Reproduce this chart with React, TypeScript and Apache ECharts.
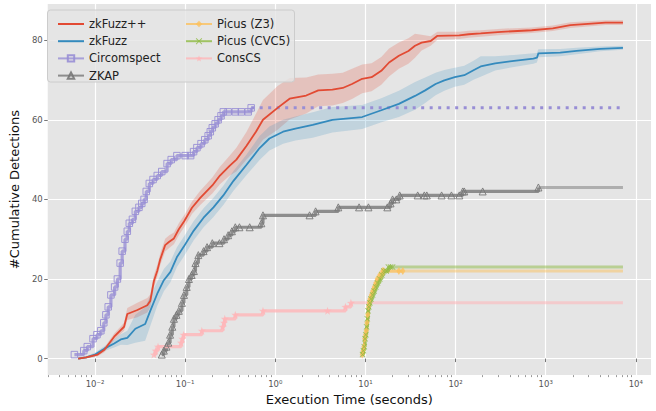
import React, { useEffect, useRef } from 'react';
import * as echarts from 'echarts';

// ---------- data ----------
const END_TIME = 7200;
const xTickValues = [0.01, 0.1, 1, 10, 100, 1000, 10000];
const yTickValues = [0, 20, 40, 60, 80];

// zkFuzz++ (mean curve with confidence band)
const zkFuzzPPTimes = [0.0065, 0.008, 0.0107, 0.0127, 0.0163, 0.021, 0.0228, 0.0295, 0.038, 0.041, 0.045, 0.049, 0.053, 0.06, 0.066, 0.075, 0.085, 0.0975, 0.119, 0.147, 0.2, 0.243, 0.313, 0.37, 0.48, 0.61, 0.73, 1.06, 1.44, 2.2, 3.0, 4.3, 5.6, 7.1, 9.2, 11.7, 15, 18.3, 23.5, 30, 35.5, 42, 53, 63, 110, 140, 190, 321, 700, 1200, 1880, 4600, 7200];
const zkFuzzPPMean = [0, 0.3, 1, 2.2, 5.5, 8, 11.2, 12.2, 13.4, 14.5, 19.5, 22, 25, 28.5, 29.3, 30.2, 32.5, 34.5, 37.9, 40.4, 43.5, 46, 48.5, 50, 53.5, 57, 60, 63, 65.3, 66.1, 67.4, 67.6, 68, 69, 70.3, 70.7, 72.3, 74.4, 76.1, 77.3, 78.6, 79.4, 79.8, 81.1, 81.2, 81.5, 81.7, 82.1, 82.5, 83, 83.8, 84.4, 84.4];
const zkFuzzPPHalfWidth = [0.2, 0.3, 0.4, 0.6, 0.8, 1, 1.5, 1.8, 1.8, 1.6, 1.5, 1.5, 1.5, 1.6, 1.6, 1.5, 1.5, 1.5, 1.6, 1.8, 2, 2.2, 2.5, 3, 3.5, 4.5, 5, 5.5, 5.2, 4.5, 4, 4, 3.8, 3.8, 3.6, 3.5, 3.5, 3.5, 3.3, 3.2, 3, 2, 1.2, 1, 0.9, 0.9, 0.8, 0.8, 0.7, 0.7, 0.7, 0.6, 0.6];

// zkFuzz (mean curve with confidence band)
const zkFuzzTimes = [0.0065, 0.008, 0.01, 0.0127, 0.0163, 0.0193, 0.0228, 0.028, 0.036, 0.041, 0.049, 0.058, 0.0686, 0.081, 0.097, 0.124, 0.16, 0.206, 0.265, 0.342, 0.48, 0.67, 0.86, 1.22, 1.67, 2.6, 4.3, 9.2, 15, 23.5, 35.5, 46, 60, 75, 98, 125, 160, 190, 275, 445, 730, 800, 830, 1450, 2200, 4030, 7200];
const zkFuzzMean = [0, 0.3, 1, 2.5, 3.8, 4.8, 5.2, 7.5, 8.7, 12, 16.3, 19.7, 21.8, 25.5, 28.2, 32.1, 35.4, 38, 41, 44.6, 48.7, 52.9, 55.3, 57, 57.8, 58.7, 60, 60.7, 62.4, 64, 66, 67.4, 69, 69.9, 70.7, 71.2, 72.5, 73.4, 74.2, 74.8, 75.4, 75.6, 76.7, 76.9, 77.3, 77.8, 78.1];
const zkFuzzHalfWidth = [0.2, 0.3, 0.5, 0.6, 1, 1.3, 1.8, 3.5, 4.2, 3.8, 3, 2.8, 2.6, 2.5, 2.5, 2.4, 2.4, 2.4, 2.4, 2.5, 2.6, 3, 3, 3, 3, 3.2, 3.2, 3, 3, 3.3, 3.5, 3.2, 2.8, 2.6, 2.4, 2.4, 2.4, 2.6, 1.8, 1.5, 1.3, 1.2, 1, 0.9, 0.8, 0.6, 0.5];

// Circomspect (step curve)
const circomspectTimes = [0.0059, 0.0075, 0.0082, 0.0095, 0.0105, 0.0116, 0.0125, 0.0132, 0.014, 0.015, 0.0165, 0.0177, 0.019, 0.02, 0.0215, 0.0228, 0.024, 0.026, 0.028, 0.0307, 0.033, 0.035, 0.037, 0.04, 0.044, 0.049, 0.055, 0.063, 0.07, 0.081, 0.1, 0.115, 0.124, 0.135, 0.15, 0.165, 0.18, 0.19, 0.2, 0.215, 0.232, 0.25, 0.265, 0.3, 0.36, 0.42, 0.5, 0.54];
const circomspectCounts = [1, 2, 3, 5, 6, 7, 9, 11, 13, 16, 18, 20, 24, 27, 30, 32, 34, 35, 37, 38, 39, 40, 42, 44, 45, 46, 47, 49, 50, 51, 51, 51, 52, 53, 54, 55, 56, 57, 58, 59, 60, 61, 62, 62, 62, 62, 62, 63];

// ZKAP (step curve)
const zkapTimes = [0.055, 0.058, 0.062, 0.065, 0.068, 0.072, 0.075, 0.08, 0.085, 0.092, 0.097, 0.104, 0.11, 0.118, 0.125, 0.13, 0.14, 0.16, 0.175, 0.2, 0.24, 0.27, 0.3, 0.33, 0.36, 0.4, 0.52, 0.7, 0.73, 2.4, 2.8, 5.0, 8.5, 10.8, 17.5, 19, 20, 22, 24, 38, 45, 48, 70, 90, 110, 120, 125, 200, 830];
const zkapCounts = [1, 2, 3, 4, 6, 8, 10, 11, 12, 14, 16, 18, 20, 21, 22, 24, 26, 27, 28, 29, 29, 30, 31, 32, 33, 33, 33, 34, 36, 36, 37, 38, 38, 38, 38, 39, 40, 40, 41, 41, 41, 41, 41, 41, 41, 42, 42, 42, 43];

// Picus (Z3) (step curve)
const picusZ3Times = [9.2, 9.4, 9.6, 9.8, 10, 10.2, 10.4, 10.6, 10.8, 11, 11.2, 11.6, 12, 12.5, 13, 13.5, 14.4, 15, 15.5, 16, 23.5, 26];
const picusZ3Counts = [1, 2, 3, 5, 6, 7, 9, 11, 13, 14, 15, 16, 17, 18, 19, 20, 21, 21, 22, 22, 22, 22];

// Picus (CVC5) (step curve)
const picusCVC5Times = [9.3, 9.5, 9.7, 9.9, 10.1, 10.3, 10.5, 10.7, 10.9, 11.2, 11.5, 12, 12.5, 13, 13.6, 14.4, 15.2, 16, 17, 18, 19, 20];
const picusCVC5Counts = [1, 2, 3, 5, 6, 8, 10, 12, 13, 14, 15, 16, 17, 18, 19, 20, 21, 22, 22, 23, 23, 23];

// ConsCS (step curve)
const consCSTimes = [0.045, 0.047, 0.05, 0.09, 0.093, 0.096, 0.153, 0.26, 0.27, 0.275, 0.36, 0.73, 3.8, 6.0, 6.9];
const consCSCounts = [1, 2, 3, 4, 5, 6, 7, 8, 9, 10, 11, 12, 12, 13, 14];

// ---------- styling ----------
const C_RED = '#E24A33';
const C_BLUE = '#348ABD';
const C_PURPLE = '#988ED5';
const C_GREY = '#777777';
const C_YELLOW = '#FBC15E';
const C_GREEN = '#8EBA42';
const C_PINK = '#FFB5B8';
const FONT = 'DejaVu Sans';

const X_MIN = 0.002985;
const X_MAX = 14740;
const Y_MIN = -4.15;
const Y_MAX = 89.1;

const SYM_X = 'path://M1,0 L5,4 L9,0 L10,1 L6,5 L10,9 L9,10 L5,6 L1,10 L0,9 L4,5 L0,1 Z';
const SYM_STAR = 'path://M5,0 L6.2,3.5 L10,3.6 L7,5.9 L8.1,9.5 L5,7.4 L1.9,9.5 L3,5.9 L0,3.6 L3.8,3.5 Z';
const SYM_DIAMOND = 'path://M3,0 L6,5 L3,10 L0,5 Z';

const SUP: Record<string, string> = { '-': '\u207B', '0': '\u2070', '1': '\u00B9', '2': '\u00B2', '3': '\u00B3', '4': '\u2074' };
function supText(n: number) {
  return String(n).split('').map((c) => SUP[c] || c).join('');
}

function pairs(xs: number[], ys: number[]) {
  return xs.map((x, i) => [x, ys[i]]);
}

function minorTickValues() {
  const out: number[] = [];
  for (let d = -3; d <= 4; d++) {
    for (let k = 2; k <= 9; k++) {
      const v = k * Math.pow(10, d);
      if (v > X_MIN && v < X_MAX) out.push(v);
    }
  }
  return out;
}

function bandSeries(name: string, times: number[], mean: number[], hw: number[], color: string, opacity: number) {
  const data = times.map((t, i) => [t, mean[i] - hw[i], mean[i] + hw[i]]);
  return {
    name: name + ' band',
    type: 'custom',
    data,
    silent: true,
    z: 1,
    clip: true,
    renderItem: (params: any, api: any) => {
      if (params.dataIndexInside !== 0) return null;
      const n = params.dataInsideLength;
      const top: number[][] = [];
      const bot: number[][] = [];
      for (let i = 0; i < n; i++) {
        const t = api.value(0, i);
        top.push(api.coord([t, api.value(2, i)]));
        bot.push(api.coord([t, api.value(1, i)]));
      }
      return {
        type: 'polygon',
        shape: { points: top.concat(bot.reverse()) },
        style: { fill: color, opacity, stroke: 'none' },
        silent: true,
      };
    },
  };
}

function toolSeries(name: string, times: number[], counts: number[], color: string, symbol: string, symbolSize: any, hollow: boolean, tailOpacity: number, tailDash: any) {
  const main = {
    name,
    type: 'line',
    step: 'end',
    data: pairs(times, counts),
    color,
    symbol,
    symbolSize,
    showSymbol: true,
    showAllSymbol: true,
    lineStyle: { color, width: 3.2, opacity: 0.8 },
    itemStyle: hollow
      ? { color: 'rgba(0,0,0,0)', borderColor: color, borderWidth: 1, opacity: 0.9 }
      : { color, opacity: 0.8 },
    z: 3,
  };
  const last = counts[counts.length - 1];
  const tail = {
    name: name + ' tail',
    type: 'line',
    data: [[times[times.length - 1], last], [END_TIME, last]],
    symbol: 'none',
    lineStyle: { color, width: 3, opacity: tailOpacity, type: tailDash, cap: 'butt' },
    silent: true,
    z: 2,
  };
  return [main, tail];
}

export default function App() {
  const ref = useRef<HTMLDivElement>(null);
  useEffect(() => {
    if (!ref.current) return;
    const chart = echarts.init(ref.current, null, { renderer: 'svg' });
    const legendText = { fontFamily: FONT, fontSize: 11.5, color: '#222', lineHeight: 14 };
    const legendCommon = {
      orient: 'vertical',
      top: 12,
      itemWidth: 26,
      itemHeight: 8,
      itemGap: 3.2,
      textStyle: legendText,
      z: 5,
      selectedMode: false,
    };
    const option: any = {
      animation: false,
      backgroundColor: '#ffffff',
      textStyle: { fontFamily: FONT },
      grid: { left: 43, right: 5, top: 4, bottom: 32, show: true, backgroundColor: '#E5E5E5', borderWidth: 0 },
      legend: [
        {
          ...legendCommon,
          left: 52,
          data: [
            { name: 'zkFuzz++', itemStyle: { opacity: 0 } },
            { name: 'zkFuzz', itemStyle: { opacity: 0 } },
            'Circomspect',
            'ZKAP',
          ],
        },
        {
          ...legendCommon,
          left: 180,
          data: ['Picus (Z3)', 'Picus (CVC5)', 'ConsCS'],
        },
      ],
      graphic: [
        {
          type: 'rect',
          z: 4,
          shape: { x: 47.5, y: 10, width: 247, height: 72, r: 3 },
          style: { fill: 'rgba(229,229,229,0.8)', stroke: '#cccccc', lineWidth: 1 },
          silent: true,
        },
      ],
      xAxis: [
        {
          type: 'log',
          logBase: 10,
          min: X_MIN,
          max: X_MAX,
          name: 'Execution Time (seconds)',
          nameLocation: 'middle',
          nameGap: 15,
          nameTextStyle: { fontFamily: FONT, fontSize: 13, color: '#111' },
          axisLine: { show: false },
          axisTick: { show: true, customValues: xTickValues, length: 3.5, lineStyle: { color: '#555', width: 0.8 } },
          axisLabel: {
            customValues: xTickValues,
            margin: 4,
            fontFamily: FONT,
            fontSize: 8.5,
            color: '#555',
            formatter: (v: number) => '10' + supText(Math.round(Math.log10(v))),
          },
          splitLine: { show: true, lineStyle: { color: '#ffffff', width: 1.2 } },
          minorTick: { show: false },
        },
        {
          type: 'log',
          logBase: 10,
          min: X_MIN,
          max: X_MAX,
          position: 'bottom',
          axisLine: { show: false },
          axisTick: { show: true, customValues: minorTickValues(), length: 2, lineStyle: { color: '#555', width: 0.6 } },
          axisLabel: { show: false },
          splitLine: { show: false },
        },
      ],
      yAxis: {
        type: 'value',
        min: Y_MIN,
        max: Y_MAX,
        name: '#Cumulative Detections',
        nameLocation: 'middle',
        nameGap: 13.5,
        nameTextStyle: { fontFamily: FONT, fontSize: 13, color: '#111' },
        axisLine: { show: false },
        axisTick: { show: true, customValues: yTickValues, length: 3.5, lineStyle: { color: '#555', width: 0.8 } },
        axisLabel: { customValues: yTickValues, margin: 5, fontFamily: FONT, fontSize: 8.5, color: '#555' },
        splitLine: { show: true, lineStyle: { color: '#ffffff', width: 1.2 } },
      },
      series: [
        bandSeries('zkFuzz++', zkFuzzPPTimes, zkFuzzPPMean, zkFuzzPPHalfWidth, C_RED, 0.22),
        bandSeries('zkFuzz', zkFuzzTimes, zkFuzzMean, zkFuzzHalfWidth, C_BLUE, 0.2),
        ...toolSeries('Circomspect', circomspectTimes, circomspectCounts, C_PURPLE, 'rect', 6.5, true, 1, [3, 5.5]),
        ...toolSeries('ZKAP', zkapTimes, zkapCounts, C_GREY, 'triangle', 7, true, 0.5, 'solid'),
        ...toolSeries('Picus (Z3)', picusZ3Times, picusZ3Counts, C_YELLOW, SYM_DIAMOND, [5, 8], false, 0.5, 'solid'),
        ...toolSeries('Picus (CVC5)', picusCVC5Times, picusCVC5Counts, C_GREEN, SYM_X, 6, false, 0.5, 'solid'),
        ...toolSeries('ConsCS', consCSTimes, consCSCounts, C_PINK, SYM_STAR, 8, false, 0.55, 'solid'),
        {
          name: 'zkFuzz',
          type: 'line',
          data: pairs(zkFuzzTimes, zkFuzzMean),
          color: C_BLUE,
          symbol: 'none',
          lineStyle: { color: C_BLUE, width: 1.8 },
          z: 4,
        },
        {
          name: 'zkFuzz++',
          type: 'line',
          data: pairs(zkFuzzPPTimes, zkFuzzPPMean),
          color: C_RED,
          symbol: 'none',
          lineStyle: { color: C_RED, width: 1.8 },
          z: 4,
        },
      ],
    };
    chart.setOption(option);
    return () => chart.dispose();
  }, []);
  return <div ref={ref} style={{ width: 656, height: 411, position: 'absolute', left: 0, top: 0 }} />;
}
